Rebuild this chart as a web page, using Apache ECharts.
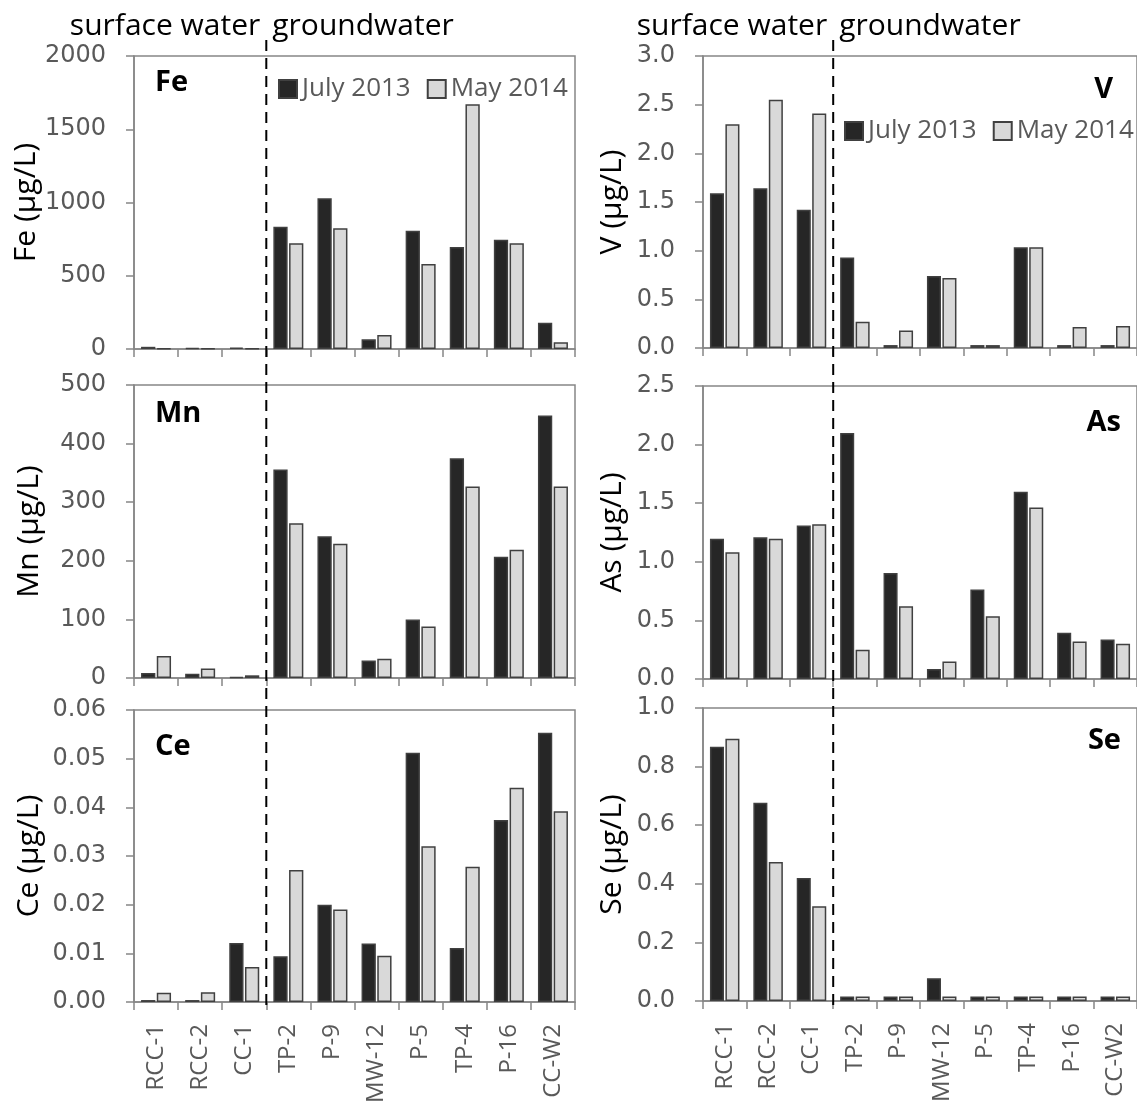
<!DOCTYPE html>
<html>
<head>
<meta charset="utf-8">
<script src="https://cdn.jsdelivr.net/npm/echarts@6/dist/echarts.min.js"></script>
<style>
html,body{margin:0;padding:0;background:#fff;}
#chart{width:1137px;height:1108px;}
</style>
</head>
<body>
<div id="chart"></div>
<script>
// ---- data ----
const categories = ['RCC-1','RCC-2','CC-1','TP-2','P-9','MW-12','P-5','TP-4','P-16','CC-W2'];
const seriesNames = ['July 2013','May 2014'];
const feJuly = [15, 8, 10, 835, 1029, 66, 808, 696, 746, 180];
const feMay  = [5, 4, 4, 721, 824, 96, 580, 1670, 721, 46];
const mnJuly = [8.5, 7.4, 2, 356, 242, 30, 100, 375, 207, 448];
const mnMay  = [37.6, 16, 4.6, 264, 229, 33, 88, 327, 219, 327];
const ceJuly = [0.0004, 0.0004, 0.0121, 0.0094, 0.0200, 0.0120, 0.0512, 0.0111, 0.0374, 0.0553];
const ceMay  = [0.0019, 0.0020, 0.0072, 0.0271, 0.0190, 0.0095, 0.0320, 0.0278, 0.0440, 0.0392];
const vJuly  = [1.59, 1.64, 1.42, 0.93, 0.03, 0.74, 0.03, 1.035, 0.03, 0.03];
const vMay   = [2.30, 2.55, 2.41, 0.27, 0.18, 0.72, 0.03, 1.035, 0.215, 0.225];
const asJuly = [1.196, 1.21, 1.31, 2.10, 0.905, 0.085, 0.763, 1.597, 0.395, 0.336];
const asMay  = [1.081, 1.196, 1.32, 0.25, 0.62, 0.15, 0.535, 1.463, 0.32, 0.30];
const seJuly = [0.868, 0.677, 0.42, 0.015, 0.015, 0.078, 0.015, 0.015, 0.015, 0.015];
const seMay  = [0.895, 0.474, 0.323, 0.015, 0.015, 0.015, 0.015, 0.015, 0.015, 0.015];

const panelNames = ['Fe','Mn','Ce','V','As','Se'];
const yMax      = [2000, 500, 0.06, 3.0, 2.5, 1.0];
const yInterval = [500, 100, 0.01, 0.5, 0.5, 0.2];
const yDecimals = [0, 0, 2, 1, 1, 1];
const panelData = [[feJuly, feMay],[mnJuly, mnMay],[ceJuly, ceMay],[vJuly, vMay],[asJuly, asMay],[seJuly, seMay]];
const sectionLabels = ['surface water','groundwater'];

// ---- layout ----
const FONT = '"Open Sans", sans-serif';
const TICKFONT = '"DejaVu Sans", sans-serif';
const gridPos = [
  {left:134, top:56,  width:441, height:293},
  {left:134, top:385, width:441, height:293},
  {left:134, top:710, width:441, height:292},
  {left:703, top:56,  width:441, height:292},
  {left:703, top:386, width:441, height:293},
  {left:703, top:708, width:441, height:293}
];
const axisGray = '#868686';
const labelGray = '#595959';
const darkFill = '#262626';
const lightFill = '#d9d9d9';
const barBorder = '#404040';

const grids = gridPos.map(g => Object.assign({show:true, borderColor:axisGray, borderWidth:1.5, containLabel:false}, g));

const xAxes = gridPos.map((g,i) => ({
  type:'category', gridIndex:i, data:categories,
  axisLine:{lineStyle:{color:axisGray, width:1.5}},
  axisTick:{show:true, length:8, lineStyle:{color:axisGray, width:1.5}},
  axisLabel:{show:(i===2||i===5), rotate:90, fontSize:24, color:labelGray, fontFamily:FONT, margin:22}
}));

const yAxes = gridPos.map((g,i) => ({
  type:'value', gridIndex:i, min:0, max:yMax[i], interval:yInterval[i],
  name: panelNames[i] + ' (µg/L)', nameLocation:'middle', nameGap: i<3 ? 90 : 76,
  nameTextStyle:{fontSize:30, color:'#000', fontFamily:FONT},
  splitLine:{show:false},
  axisLine:{show:true, lineStyle:{color:axisGray, width:1.5}},
  axisTick:{show:true, inside:false, length:8, lineStyle:{color:axisGray, width:1.5}},
  axisLabel:{fontSize:24, color:labelGray, fontFamily:TICKFONT, margin:28,
    formatter: v => Number(v).toFixed(yDecimals[i])}
}));

const series = [];
panelData.forEach((pair,i) => {
  pair.forEach((vals,k) => {
    series.push({
      type:'bar', name:seriesNames[k], xAxisIndex:i, yAxisIndex:i, data:vals,
      barCategoryGap:'32%', barGap:'10%', animation:false,
      itemStyle:{color: k===0 ? darkFill : lightFill, borderColor:barBorder, borderWidth:1.5}
    });
  });
});

const legendBase = {
  data:seriesNames, orient:'horizontal', itemWidth:18, itemHeight:18, itemGap:16,
  icon:'rect', textStyle:{fontSize:26, color:labelGray, fontFamily:FONT}, padding:0
};

const chart = echarts.init(document.getElementById('chart'), null, {renderer:'canvas'});
chart.setOption({
  backgroundColor:'#fff',
  animation:false,
  grid:grids,
  xAxis:xAxes,
  yAxis:yAxes,
  legend:[
    Object.assign({left:278, top:76}, legendBase),
    Object.assign({left:844, top:118}, legendBase)
  ],
  series:series
});

// separators between surface water and groundwater, placed through the category axis scale
function boundaryX(axisIdx){
  const a = chart.convertToPixel({xAxisIndex:axisIdx}, categories[2]);
  const b = chart.convertToPixel({xAxisIndex:axisIdx}, categories[3]);
  return (a+b)/2;
}
const xL = boundaryX(0), xR = boundaryX(3);
const graphics = [];
[xL, xR].forEach(x => {
  graphics.push({type:'line', shape:{x1:x, y1:40, x2:x, y2:1010}, z:10,
    style:{stroke:'#000', lineWidth:2, lineDash:[11,7]}});
  graphics.push({type:'text', x:x-6, y:26, z:10,
    style:{text:sectionLabels[0], fontSize:30, fontFamily:FONT, fill:'#000', textAlign:'right', textVerticalAlign:'middle'}});
  graphics.push({type:'text', x:x+6, y:26, z:10,
    style:{text:sectionLabels[1], fontSize:30, fontFamily:FONT, fill:'#000', textAlign:'left', textVerticalAlign:'middle'}});
});
const labelPos = [
  {x:155, y:83, align:'left'},
  {x:155, y:414, align:'left'},
  {x:155, y:747, align:'left'},
  {x:1113, y:90, align:'right'},
  {x:1121, y:423, align:'right'},
  {x:1121, y:741, align:'right'}
];
labelPos.forEach((p,i) => {
  graphics.push({type:'text', x:p.x, y:p.y, z:10,
    style:{text:panelNames[i], fontSize:29, fontWeight:'bold', fontFamily:FONT, fill:'#000', textAlign:p.align, textVerticalAlign:'middle'}});
});
chart.setOption({graphic:graphics});
</script>
</body>
</html>
